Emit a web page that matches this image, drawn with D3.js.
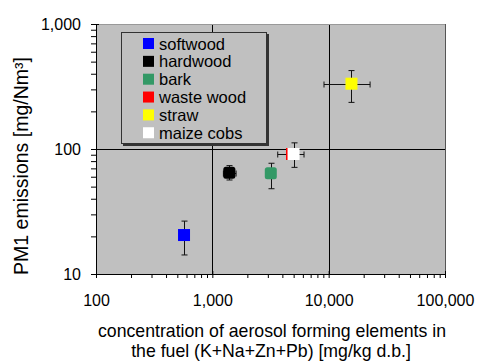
<!DOCTYPE html>
<html>
<head>
<meta charset="utf-8">
<script src="https://cdn.jsdelivr.net/npm/d3@7"></script>
<style>
    body { margin: 0; background: #fff; }
    text { font-family: "Liberation Sans", Arial, sans-serif; fill: #000; }
</style>
</head>
<body>
<div id="chart"></div>
<script>
const fuels = ['softwood', 'hardwood', 'bark', 'waste wood', 'straw', 'maize cobs']
const colors = ['#0000ff', '#000000', '#339966', '#ff0000', '#ffff00', '#ffffff']

// concentration of aerosol forming elements [mg/kg d.b.]
const conc = [571, 1400, 3180, 4840, 15700, 4990]
const concLow = [null, 1245, null, null, 9120, 3650]
const concHigh = [null, 1600, null, null, 22700, 6140]

// PM1 emissions [mg/Nm3]
const pm1 = [20.5, 64.7, 63.9, 91.2, 333, 91.2]
const pm1Low = [14.2, 56.5, 48.1, null, 236, 71.3]
const pm1High = [26.5, 73.6, 76.9, null, 424, 112]

const xTicks = [100, 1000, 10000, 100000]
const yTicks = [10, 100, 1000]

const chart_width = 480
const chart_height = 363
const p_left = 96, p_right = 445, p_top = 24, p_bottom = 274

var svg = d3.select('#chart')
    .append('svg')
    .attr('width', chart_width)
    .attr('height', chart_height)

var x_scale = d3.scaleLog()
    .domain([100, 100000])
    .range([p_left, p_right])

var y_scale = d3.scaleLog()
    .domain([10, 1000])
    .range([p_bottom, p_top])

var fmt = d3.format(',')

// plot area
svg.append('rect')
    .attr('x', p_left)
    .attr('y', p_top)
    .attr('width', p_right - p_left)
    .attr('height', p_bottom - p_top)
    .attr('fill', '#c0c0c0')

// gridlines at the decades
svg.append('g')
    .selectAll('line')
    .data(xTicks.slice(1))
    .enter()
    .append('line')
    .attr('x1', d => Math.round(x_scale(d)) + 0.5)
    .attr('x2', d => Math.round(x_scale(d)) + 0.5)
    .attr('y1', p_top)
    .attr('y2', p_bottom)
    .attr('stroke', d => d == 100000 ? '#555' : '#000')

svg.append('g')
    .selectAll('line')
    .data(yTicks.slice(1))
    .enter()
    .append('line')
    .attr('y1', d => Math.round(y_scale(d)) + 0.5)
    .attr('y2', d => Math.round(y_scale(d)) + 0.5)
    .attr('x1', p_left)
    .attr('x2', p_right)
    .attr('stroke', d => d == 1000 ? '#999' : '#000')

// axes
var minor = function(lo, hi){
    var out = []
    for (var p = lo; p < hi; p *= 10)
        for (var k = 2; k < 10; k++) out.push(p * k)
    return out
}

var x_axis = d3.axisBottom(x_scale)
    .tickValues(minor(100, 100000))
    .tickFormat('')
    .tickSize(4)
svg.append('g')
    .attr('transform', 'translate(0,' + p_bottom + ')')
    .call(x_axis)

var x_major = d3.axisBottom(x_scale)
    .tickValues(xTicks)
    .tickFormat(fmt)
    .tickSizeInner(4)
    .tickSizeOuter(0)
    .tickPadding(17)
svg.append('g')
    .attr('class', 'x-axis')
    .attr('transform', 'translate(0,' + p_bottom + ')')
    .call(x_major)

var y_axis = d3.axisLeft(y_scale)
    .tickValues(minor(10, 1000))
    .tickFormat('')
    .tickSize(5)
svg.append('g')
    .attr('transform', 'translate(' + p_left + ',0)')
    .call(y_axis)

var y_major = d3.axisLeft(y_scale)
    .tickValues(yTicks)
    .tickFormat(fmt)
    .tickSizeInner(5)
    .tickSizeOuter(0)
    .tickPadding(10)
svg.append('g')
    .attr('class', 'y-axis')
    .attr('transform', 'translate(' + p_left + ',0)')
    .call(y_major)

svg.selectAll('.domain').attr('stroke', '#000')
svg.selectAll('.tick line').attr('stroke', '#000')
svg.selectAll('.x-axis .tick text, .y-axis .tick text')
    .style('font-size', '16px')
    .style('font-family', '"Liberation Sans", Arial, sans-serif')
svg.selectAll('.x-axis .tick line').attr('y1', -3)
svg.selectAll('.y-axis .tick line').attr('x1', 3)

// axis titles
var xt = svg.append('text')
    .attr('text-anchor', 'middle')
    .style('font-size', '17.7px')
xt.append('tspan').attr('x', 272).attr('y', 337)
    .text('concentration of aerosol forming elements in')
xt.append('tspan').attr('x', 271).attr('y', 357)
    .text('the fuel (K+Na+Zn+Pb) [mg/kg d.b.]')

svg.append('text')
    .attr('transform', 'translate(27.5,166) rotate(-90)')
    .attr('text-anchor', 'middle')
    .style('font-size', '19.5px')
    .text('PM1 emissions [mg/Nm³]')

// error bars
var idx = d3.range(fuels.length)
var errs = svg.append('g').attr('stroke', '#111').attr('stroke-width', 1)
var cap = 3

idx.filter(i => pm1Low[i] != null).forEach(function(i){
    var cx = Math.round(x_scale(conc[i])) + 0.5
    var y1 = y_scale(pm1Low[i]), y2 = y_scale(pm1High[i])
    errs.append('line').attr('x1', cx).attr('x2', cx).attr('y1', y1).attr('y2', y2)
    errs.append('line').attr('x1', cx - cap).attr('x2', cx + cap).attr('y1', y1).attr('y2', y1)
    errs.append('line').attr('x1', cx - cap).attr('x2', cx + cap).attr('y1', y2).attr('y2', y2)
})

idx.filter(i => concLow[i] != null).forEach(function(i){
    var cy = Math.round(y_scale(pm1[i])) + 0.5
    var x1 = x_scale(concLow[i]), x2 = x_scale(concHigh[i])
    errs.append('line').attr('y1', cy).attr('y2', cy).attr('x1', x1).attr('x2', x2)
    errs.append('line').attr('y1', cy - cap).attr('y2', cy + cap).attr('x1', x1).attr('x2', x1)
    errs.append('line').attr('y1', cy - cap).attr('y2', cy + cap).attr('x1', x2).attr('x2', x2)
})

// markers
var size = 12
svg.append('g')
    .selectAll('rect')
    .data(idx)
    .enter()
    .append('rect')
    .attr('x', i => x_scale(conc[i]) - size / 2)
    .attr('y', i => y_scale(pm1[i]) - size / 2)
    .attr('width', size)
    .attr('height', size)
    .attr('rx', i => (i == 1 || i == 2) ? 2.5 : 0)
    .attr('fill', i => colors[i])

// legend
var lg = svg.append('g')
lg.append('rect')
    .attr('x', 123).attr('y', 34)
    .attr('width', 146).attr('height', 112)
    .attr('fill', '#333')
lg.append('rect')
    .attr('x', 121.5).attr('y', 32.5)
    .attr('width', 145).attr('height', 111)
    .attr('fill', '#c0c0c0')
    .attr('stroke', '#333')

var items = lg.selectAll('g.item')
    .data(idx)
    .enter()
    .append('g')
    .attr('transform', i => 'translate(143,' + (43.5 + i * 17.85) + ')')
items.append('rect')
    .attr('x', 0).attr('y', -5.5)
    .attr('width', 11).attr('height', 11)
    .attr('fill', i => colors[i])
items.append('text')
    .attr('x', 16)
    .attr('y', 6)
    .style('font-size', '16.5px')
    .text(i => fuels[i])
</script>
</body>
</html>
